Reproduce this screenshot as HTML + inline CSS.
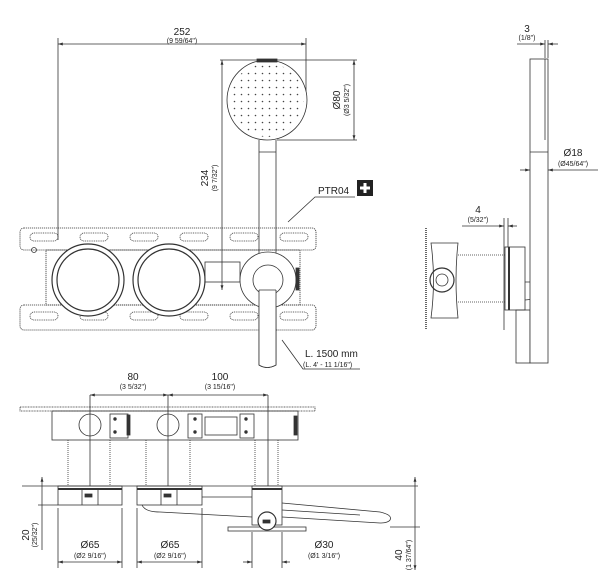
<!DOCTYPE html>
<html><head><meta charset="utf-8"><style>
html,body{margin:0;padding:0;background:#fff}
svg{display:block}
text{font-family:"Liberation Sans",sans-serif;fill:#222}
.t{font-size:10px}.s{font-size:7px}
</style></head><body>
<svg width="613" height="588" viewBox="0 0 613 588" xmlns="http://www.w3.org/2000/svg">
<defs>
<pattern id="dots" width="7" height="7" patternUnits="userSpaceOnUse"><circle cx="3.5" cy="3.5" r="0.8" fill="#444"/></pattern>
<marker id="a" viewBox="0 0 10 10" refX="10" refY="5" markerWidth="6" markerHeight="6" orient="auto-start-reverse"><path d="M0,2L10,5L0,8z" fill="#333"/></marker>
</defs>
<g stroke="#333" fill="none" stroke-width="0.8">
<line x1="58" y1="38" x2="58" y2="240"/>
<line x1="306" y1="38" x2="306" y2="95"/>
<line x1="58" y1="44" x2="306" y2="44" marker-start="url(#a)" marker-end="url(#a)"/>
<circle cx="267" cy="100" r="40" fill="#fff"/>
<circle cx="267" cy="100" r="37" fill="url(#dots)" stroke="none"/>
<rect x="257" y="59" width="20" height="3" fill="#333"/>
<line x1="220" y1="60" x2="357" y2="60"/>
<line x1="277" y1="140" x2="357" y2="140"/>
<line x1="354" y1="60" x2="354" y2="140" marker-start="url(#a)" marker-end="url(#a)"/>
<line x1="222" y1="60" x2="222" y2="290" marker-start="url(#a)" marker-end="url(#a)"/>
<path d="M259,140 L259,365 Q267,370 276,365 L276,140"/>
<line x1="259" y1="152" x2="276" y2="152"/>
<rect x="20" y="228" width="296" height="22" rx="4" stroke-dasharray="1.2 0.8"/>
<rect x="20" y="305" width="296" height="25" rx="4" stroke-dasharray="1.2 0.8"/>
<rect x="46" y="250" width="254" height="55" stroke-dasharray="1.2 0.8"/>
<g stroke-dasharray="1 0.8">
<rect x="30" y="233" width="28" height="8" rx="4"/><rect x="80" y="233" width="28" height="8" rx="4"/><rect x="130" y="233" width="28" height="8" rx="4"/><rect x="180" y="233" width="28" height="8" rx="4"/><rect x="230" y="233" width="28" height="8" rx="4"/><rect x="280" y="233" width="28" height="8" rx="4"/>
<rect x="30" y="312" width="28" height="8" rx="4"/><rect x="80" y="312" width="28" height="8" rx="4"/><rect x="130" y="312" width="28" height="8" rx="4"/><rect x="180" y="312" width="28" height="8" rx="4"/><rect x="230" y="312" width="28" height="8" rx="4"/><rect x="280" y="312" width="28" height="8" rx="4"/>
</g>
<circle cx="34" cy="250" r="2.5"/>
<rect x="205" y="262" width="35" height="20"/>
<circle cx="88" cy="280" r="36" fill="#fff" stroke-width="1.2"/><circle cx="88" cy="280" r="31" stroke-width="1.2"/>
<circle cx="169" cy="280" r="36" fill="#fff" stroke-width="1.2"/><circle cx="169" cy="280" r="31" stroke-width="1.2"/>
<circle cx="268" cy="280" r="28" fill="#fff"/>
<circle cx="268" cy="280" r="15"/>
<rect x="296" y="268" width="3" height="22" fill="#333"/>
<path d="M259,290 L259,365 Q267,370 276,365 L276,290" fill="#fff"/>
<line x1="259" y1="290" x2="276" y2="290"/>
<polyline points="288,222 315,197 355,197"/>
<polyline points="282,340 303,369 360,369"/>
</g>
<rect x="357" y="180" width="16" height="16" fill="#222"/>
<path d="M365,183v10M360,188h10" stroke="#fff" stroke-width="3"/>
<text x="318" y="194" class="t">PTR04</text>
<text x="305" y="357" class="t">L. 1500 mm</text>
<text x="303" y="367" class="s">(L. 4' - 11 1/16")</text>
<text x="182" y="35" class="t" text-anchor="middle">252</text>
<text x="182" y="43" class="s" text-anchor="middle">(9 59/64")</text>
<text transform="translate(340,100) rotate(-90)" class="t" text-anchor="middle">Ø80</text>
<text transform="translate(349,100) rotate(-90)" class="s" text-anchor="middle">(Ø3 5/32")</text>
<text transform="translate(208,178) rotate(-90)" class="t" text-anchor="middle">234</text>
<text transform="translate(217,178) rotate(-90)" class="s" text-anchor="middle">(9 7/32")</text>

<g stroke="#333" fill="none" stroke-width="0.8">
<line x1="426" y1="228" x2="426" y2="330" stroke-dasharray="1 1" stroke-width="1.5"/>
<path d="M431,243 Q436,280 431,318 L458,318 Q454,280 458,243 Z"/>
<circle cx="442" cy="280" r="12" stroke-width="1.2"/><circle cx="442" cy="280" r="6"/>
<line x1="458" y1="255" x2="505" y2="255" stroke-dasharray="1 1"/>
<line x1="458" y1="302" x2="505" y2="302" stroke-dasharray="1 1"/>
<rect x="505" y="247" width="20" height="63" fill="#fff"/>
<line x1="509" y1="247" x2="509" y2="310" stroke-width="2"/>
<path d="M525,282 L538,282 Q545,285 545,290 L545,298 L525,300"/>
<rect x="516" y="310" width="14" height="53"/>
<rect x="530" y="59" width="18" height="304" fill="#fff"/>
<line x1="545" y1="59" x2="545" y2="140"/>
<line x1="530" y1="152" x2="548" y2="152"/>
<line x1="545" y1="40" x2="545" y2="58"/><line x1="548" y1="40" x2="548" y2="58"/>
<line x1="517" y1="44" x2="545" y2="44" marker-end="url(#a)"/><line x1="548" y1="44" x2="558" y2="44" marker-start="url(#a)"/>
<line x1="520" y1="170" x2="530" y2="170" marker-end="url(#a)"/><line x1="548" y1="170" x2="598" y2="170" marker-start="url(#a)"/>
<line x1="504" y1="218" x2="504" y2="330"/><line x1="508" y1="218" x2="508" y2="247"/>
<line x1="462" y1="226" x2="504" y2="226" marker-end="url(#a)"/><line x1="508" y1="226" x2="517" y2="226" marker-start="url(#a)"/>
</g>
<text x="527" y="32" class="t" text-anchor="middle">3</text>
<text x="527" y="40" class="s" text-anchor="middle">(1/8")</text>
<text x="573" y="156" class="t" text-anchor="middle">Ø18</text>
<text x="573" y="166" class="s" text-anchor="middle">(Ø45/64")</text>
<text x="478" y="213" class="t" text-anchor="middle">4</text>
<text x="478" y="222" class="s" text-anchor="middle">(5/32")</text>

<g stroke="#333" fill="none" stroke-width="0.8">
<line x1="90" y1="395" x2="168" y2="395" marker-start="url(#a)" marker-end="url(#a)"/>
<line x1="168" y1="395" x2="268" y2="395" marker-start="url(#a)" marker-end="url(#a)"/>
<rect x="20" y="407" width="295" height="4" stroke-dasharray="1 0.6"/>
<rect x="52" y="411" width="246" height="29"/>
<circle cx="90" cy="425" r="11" fill="#fff"/><circle cx="168" cy="425" r="11" fill="#fff"/>
<rect x="110" y="414" width="18" height="24"/><rect x="188" y="414" width="14" height="24"/><rect x="240" y="414" width="14" height="24"/>
<rect x="205" y="417" width="32" height="18"/>
<circle cx="115" cy="419" r="1.3" fill="#333"/><circle cx="115" cy="432" r="1.3" fill="#333"/>
<circle cx="195" cy="419" r="1.3" fill="#333"/><circle cx="195" cy="432" r="1.3" fill="#333"/>
<circle cx="246" cy="419" r="1.3" fill="#333"/><circle cx="246" cy="432" r="1.3" fill="#333"/>
<rect x="127" y="415" width="3" height="20" fill="#333"/><rect x="294" y="416" width="3" height="19" fill="#333"/>
<line x1="90" y1="395" x2="90" y2="486"/><line x1="168" y1="395" x2="168" y2="486"/><line x1="268" y1="395" x2="268" y2="486"/>
<g stroke-dasharray="1 1">
<line x1="68" y1="440" x2="68" y2="486"/><line x1="110" y1="440" x2="110" y2="486"/>
<line x1="146" y1="440" x2="146" y2="486"/><line x1="190" y1="440" x2="190" y2="486"/>
<line x1="255" y1="440" x2="255" y2="486"/><line x1="278" y1="440" x2="278" y2="486"/>
</g>
<line x1="22" y1="486" x2="418" y2="486"/>
<rect x="58" y="486" width="64" height="19"/><line x1="58" y1="489" x2="122" y2="489" stroke-width="2"/>
<line x1="82" y1="489" x2="82" y2="505"/><line x1="98" y1="489" x2="98" y2="505"/>
<rect x="137" y="486" width="65" height="19"/><line x1="137" y1="489" x2="202" y2="489" stroke-width="2"/>
<line x1="161" y1="489" x2="161" y2="505"/><line x1="177" y1="489" x2="177" y2="505"/>
<rect x="85" y="494" width="7" height="3" fill="#333"/><rect x="164" y="494" width="7" height="3" fill="#333"/>
<line x1="202" y1="497" x2="252" y2="497"/>
<path d="M142,505 Q145,512 160,512 L252,517"/>
<path d="M282,503 L380,512 Q393,515 390,520 Q388,523 380,523 L282,517"/>
<path d="M282,510 L360,515"/>
<rect x="252" y="486" width="30" height="39" fill="#fff"/><line x1="252" y1="489" x2="282" y2="489" stroke-width="2"/>
<rect x="228" y="527" width="78" height="4"/>
<circle cx="267" cy="521" r="9" fill="#fff" stroke-width="1.2"/>
<rect x="263" y="520" width="7" height="3" fill="#333"/>
<line x1="42" y1="477" x2="42" y2="550" marker-start="url(#a)"/>
<line x1="38" y1="505" x2="58" y2="505"/>
<line x1="58" y1="508" x2="58" y2="568"/><line x1="122" y1="508" x2="122" y2="568"/>
<line x1="137" y1="508" x2="137" y2="568"/><line x1="202" y1="508" x2="202" y2="568"/>
<line x1="252" y1="532" x2="252" y2="568"/><line x1="282" y1="532" x2="282" y2="568"/>
<line x1="58" y1="562" x2="122" y2="562" marker-start="url(#a)" marker-end="url(#a)"/>
<line x1="137" y1="562" x2="202" y2="562" marker-start="url(#a)" marker-end="url(#a)"/>
<line x1="243" y1="562" x2="252" y2="562" marker-end="url(#a)"/><line x1="282" y1="562" x2="290" y2="562" marker-start="url(#a)"/>
<line x1="390" y1="527" x2="420" y2="527"/>
<line x1="415" y1="477" x2="415" y2="570" marker-start="url(#a)" marker-end="url(#a)"/>
</g>
<text x="133" y="380" class="t" text-anchor="middle">80</text>
<text x="133" y="389" class="s" text-anchor="middle">(3 5/32")</text>
<text x="220" y="380" class="t" text-anchor="middle">100</text>
<text x="220" y="389" class="s" text-anchor="middle">(3 15/16")</text>
<text x="90" y="548" class="t" text-anchor="middle">Ø65</text>
<text x="90" y="558" class="s" text-anchor="middle">(Ø2 9/16")</text>
<text x="170" y="548" class="t" text-anchor="middle">Ø65</text>
<text x="170" y="558" class="s" text-anchor="middle">(Ø2 9/16")</text>
<text x="324" y="548" class="t" text-anchor="middle">Ø30</text>
<text x="324" y="558" class="s" text-anchor="middle">(Ø1 3/16")</text>
<text transform="translate(29,535) rotate(-90)" class="t" text-anchor="middle">20</text>
<text transform="translate(37,535) rotate(-90)" class="s" text-anchor="middle">(25/32")</text>
<text transform="translate(402,555) rotate(-90)" class="t" text-anchor="middle">40</text>
<text transform="translate(411,555) rotate(-90)" class="s" text-anchor="middle">(1 37/64")</text>
</svg>
</body></html>
